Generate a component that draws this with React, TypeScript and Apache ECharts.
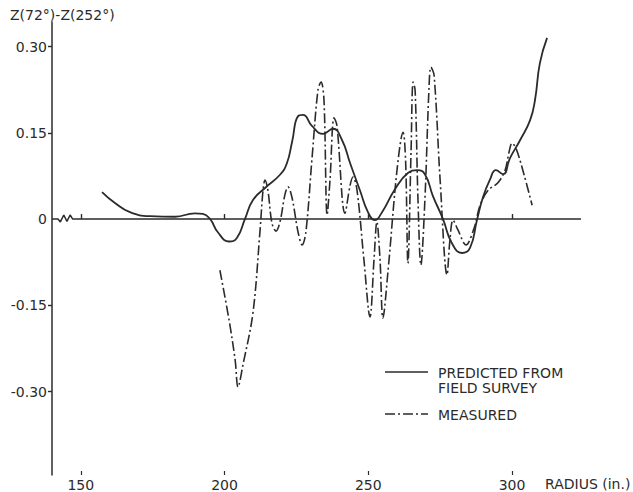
import React, { useEffect, useRef } from "react";
import * as echarts from "echarts";

// Tick values
const xTicks = [150, 200, 250, 300];
const yTicks = [-0.3, -0.15, 0, 0.15, 0.3];

// Predicted from field survey (solid)
const predictedX = [157.4, 161.9, 167.1, 174.1, 182.8, 189.7, 192.5, 195, 197.7, 201.6, 204.3, 207.1, 209.9, 214.1, 219.3, 221.7, 223.5, 225.6, 227.3, 230.4, 234.3, 237.7, 240.9, 243.7, 247.1, 249.9, 252.3, 254.8, 259.3, 263.8, 267, 269.7, 272.5, 276, 279.1, 282.6, 285.4, 287.8, 289.9, 292.3, 294.4, 296.9, 299.3, 302.8, 306.3, 308, 309.7, 312.2];
const predictedY = [0.047, 0.028, 0.012, 0.005, 0.004, 0.01, 0.009, 0, -0.023, -0.039, -0.033, 0, 0.033, 0.054, 0.077, 0.097, 0.134, 0.179, 0.181, 0.162, 0.148, 0.157, 0.137, 0.097, 0.05, 0.012, -0.002, 0.012, 0.052, 0.08, 0.085, 0.078, 0.04, 0, -0.042, -0.059, -0.05, -0.002, 0.038, 0.068, 0.085, 0.078, 0.106, 0.137, 0.172, 0.207, 0.271, 0.315];

// Measured (dash-dot)
const measuredX = [198.4, 201.6, 203.7, 204.7, 206.4, 209.9, 212.3, 213.4, 214.1, 215.1, 216.5, 217.9, 219.3, 221, 222.1, 223.5, 225.6, 227, 228.3, 230.4, 232.5, 233.6, 234.6, 235.7, 236.7, 238.1, 239.1, 241.9, 243.7, 244.7, 246.1, 248.5, 250.6, 252, 253, 254.1, 255.1, 256.9, 260, 262.1, 263, 263.8, 264.9, 265.6, 266.3, 267.3, 268.3, 269.7, 271.1, 271.8, 272.9, 275, 277.4, 278.4, 279.5, 281.2, 284, 286.8, 288.9, 291.7, 295.1, 297.6, 299, 300, 301.4, 304.2, 307];
const measuredY = [-0.089, -0.176, -0.245, -0.292, -0.254, -0.163, -0.024, 0.05, 0.068, 0.05, -0.007, -0.021, -0.005, 0.042, 0.056, 0.037, -0.023, -0.045, -0.023, 0.103, 0.224, 0.238, 0.207, 0.007, 0.068, 0.176, 0.163, 0.01, 0.059, 0.073, 0.05, -0.071, -0.17, -0.071, -0.005, -0.071, -0.172, -0.089, 0.085, 0.151, 0.1, -0.077, 0.12, 0.238, 0.224, 0.033, -0.08, 0.033, 0.224, 0.264, 0.25, 0.068, -0.097, -0.037, -0.002, -0.019, -0.045, -0.016, 0.024, 0.05, 0.063, 0.085, 0.117, 0.132, 0.123, 0.077, 0.024];

// Zero reference line with axis-break zigzag
const zeroLineX = [140, 142.1, 142.9, 144.1, 145.2, 146.3, 147.2, 324];
const zeroLineY = [0, 0, -0.005, 0.007, -0.004, 0.007, 0, 0];

const INK = "#2b2b2b";
const FONT = "DejaVu Sans";
const pairs = (xs: number[], ys: number[]) => xs.map((x, i) => [x, ys[i]]);

export default function App() {
  const ref = useRef<HTMLDivElement>(null);
  useEffect(() => {
    if (!ref.current) return;
    const chart = echarts.init(ref.current, null, { renderer: "svg" });
    const textStyle = { fill: INK, font: `14px "${FONT}"` };
    chart.setOption({
      animation: false,
      backgroundColor: "#ffffff",
      grid: { left: 52, top: 22, right: 34.75, bottom: 17, containLabel: false, outerBoundsMode: "none" },
      xAxis: [
        {
          type: "value",
          position: "bottom",
          min: 140,
          max: 330,
          axisLine: { show: false, onZero: false },
          splitLine: { show: false },
          axisTick: { show: true, inside: true, length: 4, customValues: xTicks, lineStyle: { color: INK, width: 1.2 } },
          axisLabel: { customValues: xTicks, margin: 3, color: INK, fontFamily: FONT, fontSize: 14 },
        },
        {
          type: "value",
          position: "top",
          min: 140,
          max: 330,
          axisLine: { show: false, onZero: true },
          splitLine: { show: false },
          axisTick: { show: true, length: 5, customValues: xTicks, lineStyle: { color: INK, width: 1.4 } },
          axisLabel: { show: false },
        },
      ],
      yAxis: {
        type: "value",
        min: -0.445,
        max: 0.3426,
        axisLine: { show: true, onZero: false, lineStyle: { color: INK, width: 1.5 } },
        splitLine: { show: false },
        axisTick: { show: true, length: 4, customValues: [-0.3, -0.15, 0.15, 0.3], lineStyle: { color: INK, width: 1.4 } },
        axisLabel: {
          customValues: yTicks,
          margin: 5,
          color: INK,
          fontFamily: FONT,
          fontSize: 14,
          formatter: (v: number) => (Math.abs(v) < 1e-9 ? "0" : v.toFixed(2)),
        },
      },
      series: [
        {
          name: "zero",
          type: "line",
          data: pairs(zeroLineX, zeroLineY),
          showSymbol: false,
          silent: true,
          lineStyle: { color: INK, width: 1.5 },
        },
        {
          name: "PREDICTED FROM FIELD SURVEY",
          type: "line",
          data: pairs(predictedX, predictedY),
          smooth: 0.5,
          showSymbol: false,
          silent: true,
          lineStyle: { color: INK, width: 1.8 },
        },
        {
          name: "MEASURED",
          type: "line",
          data: pairs(measuredX, measuredY),
          smooth: 0.35,
          showSymbol: false,
          silent: true,
          lineStyle: { color: INK, width: 1.6, type: [10, 3, 2, 3] },
        },
      ],
      graphic: [
        { type: "text", x: 10, y: 15, style: { ...textStyle, text: "Z(72°)-Z(252°)", verticalAlign: "middle" } },
        { type: "text", x: 545, y: 484, style: { ...textStyle, text: "RADIUS (in.)", verticalAlign: "middle" } },
        { type: "line", shape: { x1: 385, y1: 372, x2: 428, y2: 372 }, style: { stroke: INK, lineWidth: 1.5 } },
        { type: "text", x: 438, y: 373, style: { ...textStyle, text: "PREDICTED FROM", verticalAlign: "middle" } },
        { type: "text", x: 438, y: 388, style: { ...textStyle, text: "FIELD SURVEY", verticalAlign: "middle" } },
        { type: "line", shape: { x1: 385, y1: 414, x2: 428, y2: 414 }, style: { stroke: INK, lineWidth: 1.5, lineDash: [10, 3, 2, 3] } },
        { type: "text", x: 438, y: 415, style: { ...textStyle, text: "MEASURED", verticalAlign: "middle" } },
      ],
    });
    return () => chart.dispose();
  }, []);
  return <div ref={ref} style={{ position: "fixed", left: 0, top: 0, width: 633, height: 492 }} />;
}
